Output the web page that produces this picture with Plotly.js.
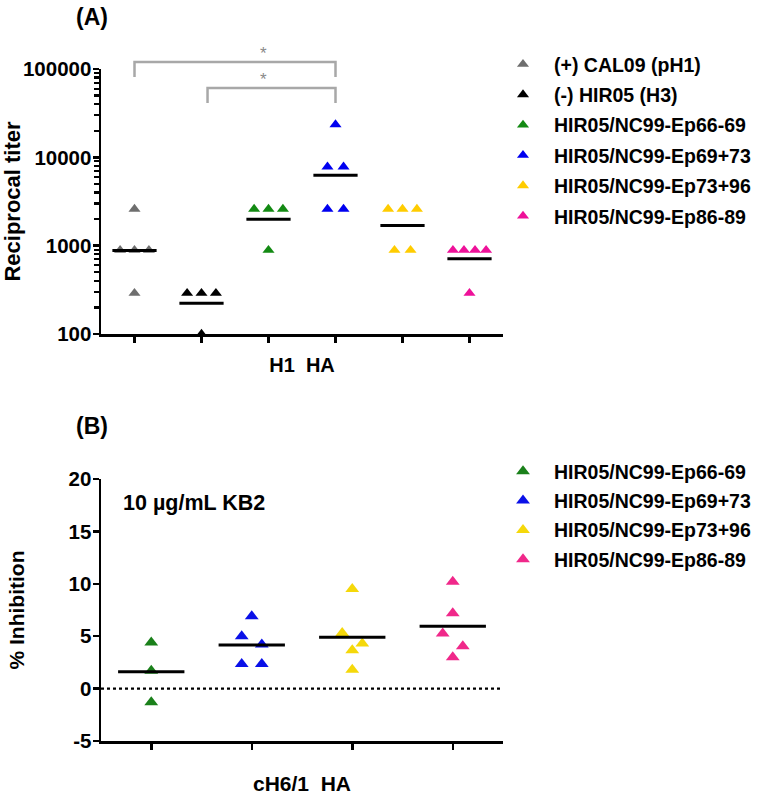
<!DOCTYPE html>
<html><head><meta charset="utf-8">
<script src="https://cdn.plot.ly/plotly-3.0.1.min.js"></script>
<style>html,body{margin:0;padding:0;background:#fff}#chart{width:758px;height:796px}</style>
</head><body><div id="chart"></div>
<script>
// ---------- Panel A data (reciprocal titer, H1 HA) ----------
const groupsA = ['(+) CAL09 (pH1)', '(-) HIR05 (H3)', 'HIR05/NC99-Ep66-69', 'HIR05/NC99-Ep69+73', 'HIR05/NC99-Ep73+96', 'HIR05/NC99-Ep86-89'];
const titerCAL09  = [2600, 890, 890, 890, 290];
const titerHIR05  = [290, 290, 290, 100];
const titerEp66_69 = [2600, 2600, 2600, 890];
const titerEp69_73 = [23500, 7800, 7800, 2600, 2600];
const titerEp73_96 = [2600, 2600, 2600, 890, 890];
const titerEp86_89 = [890, 890, 890, 890, 290];
const yTickValsA = [100, 1000, 10000, 100000];
const yTickTextA = ['100', '1000', '10000', '100000'];
const xTitleA = 'H1\u00a0\u00a0HA';
const yTitleA = 'Reciprocal titer';
const sigPairs = [[0, 3], [1.09, 3]];
const sigLabels = ['*', '*'];

// ---------- Panel B data (% inhibition, cH6/1 HA) ----------
const groupsB = ['HIR05/NC99-Ep66-69', 'HIR05/NC99-Ep69+73', 'HIR05/NC99-Ep73+96', 'HIR05/NC99-Ep86-89'];
const inhibEp66_69 = [4.4, 1.7, -1.3];
const inhibEp69_73 = [6.9, 5.0, 4.2, 2.35, 2.35];
const inhibEp73_96 = [9.5, 5.3, 4.3, 3.65, 1.8];
const inhibEp86_89 = [10.2, 7.2, 5.25, 4.05, 3.0];
const yTickValsB = [-5, 0, 5, 10, 15, 20];
const yTickTextB = ['-5', '0', '5', '10', '15', '20'];
const xTitleB = 'cH6/1\u00a0\u00a0HA';
const yTitleB = '% Inhibition';
const noteB = '10 µg/mL KB2';

// ---------- styles ----------
const colorsA = ['#6e6e6e', '#000000', '#138a13', '#0000f0', '#ffcc00', '#ee1199'];
const colorsB = ['#1a801a', '#0a10e8', '#f5d80a', '#f0288a'];
const W = 758, H = 796;
const px = x => x / W, py = y => 1 - y / H;
const FONT = 'Arial, "Liberation Sans", Helvetica, sans-serif';

// symmetric spreading of points that fall in the same bin
function spread(vals, keyFn, spacingByN) {
  const bins = {};
  vals.forEach((v, i) => { const k = keyFn(v); (bins[k] = bins[k] || []).push(i); });
  const off = new Array(vals.length).fill(0);
  Object.values(bins).forEach(idx => {
    const n = idx.length, s = spacingByN[n] || spacingByN.max;
    idx.forEach((i, k) => { off[i] = (k - (n - 1) / 2) * s; });
  });
  return off;
}
const geomean = a => Math.pow(10, a.reduce((s, v) => s + Math.log10(v), 0) / a.length);
const mean = a => a.reduce((s, v) => s + v, 0) / a.length;

const traces = [];
const seriesA = [titerCAL09, titerHIR05, titerEp66_69, titerEp69_73, titerEp73_96, titerEp86_89];
const lineAx = [], lineAy = [];
seriesA.forEach((vals, g) => {
  const off = spread(vals, v => Math.round(Math.log10(v) * 10), {1: 0, 2: 0.24, 3: 0.215, 4: 0.165, max: 0.165});
  traces.push({
    type: 'scatter', mode: 'markers', xaxis: 'x', yaxis: 'y',
    x: vals.map((v, i) => g + off[i]), y: vals,
    name: groupsA[g], legend: 'legend', legendgroup: 'a' + g,
    marker: {symbol: 'triangle-up', size: 10.5, color: colorsA[g], line: {width: 0}},
    cliponaxis: false, hoverinfo: 'x+y'
  });
  const m = geomean(vals);
  lineAx.push(g - 0.33, g + 0.33, null); lineAy.push(m, m, null);
});
traces.push({type: 'scatter', mode: 'lines', xaxis: 'x', yaxis: 'y', x: lineAx, y: lineAy,
  line: {color: '#000', width: 3}, showlegend: false, hoverinfo: 'skip'});

const seriesB = [inhibEp66_69, inhibEp69_73, inhibEp73_96, inhibEp86_89];
const lineBx = [], lineBy = [];
seriesB.forEach((vals, g) => {
  const off = spread(vals, v => Math.floor(v / 2), {1: 0, 2: 0.2, 3: 0.2, max: 0.15});
  traces.push({
    type: 'scatter', mode: 'markers', xaxis: 'x2', yaxis: 'y2',
    x: vals.map((v, i) => g + off[i]), y: vals,
    name: groupsB[g], legend: 'legend2', legendgroup: 'b' + g,
    marker: {symbol: 'triangle-up', size: 12, color: colorsB[g], line: {width: 0}},
    cliponaxis: false, hoverinfo: 'x+y'
  });
  const m = mean(vals);
  lineBx.push(g - 0.33, g + 0.33, null); lineBy.push(m, m, null);
});
traces.push({type: 'scatter', mode: 'lines', xaxis: 'x2', yaxis: 'y2', x: lineBx, y: lineBy,
  line: {color: '#000', width: 3}, showlegend: false, hoverinfo: 'skip'});

const axisCommon = {
  showline: true, linecolor: '#000', linewidth: 2.5, ticks: 'outside', ticklen: 6, tickwidth: 2.5,
  tickcolor: '#000', showgrid: false, zeroline: false, ticklabelstandoff: -3,
  tickfont: {family: FONT, size: 20.5, color: '#000', weight: 'bold'}
};

const shapes = [];
const annotations = [];
const bracketTop = [62, 88], bracketDrop = 15;
sigPairs.forEach((p, i) => {
  const yt = py(bracketTop[i]), yb = py(bracketTop[i] + bracketDrop);
  shapes.push({type: 'path', xref: 'x', yref: 'paper',
    path: `M${p[0]},${yb} L${p[0]},${yt} L${p[1]},${yt} L${p[1]},${yb}`,
    line: {color: '#a8a8a8', width: 2.5}});
  annotations.push({xref: 'x', yref: 'paper', x: 1.93, y: py(bracketTop[i] - 9), text: sigLabels[i],
    showarrow: false, font: {family: FONT, size: 17, color: '#8a8a8a'}, xanchor: 'center', yanchor: 'middle'});
});
shapes.push({type: 'line', xref: 'x2', yref: 'y2', x0: -0.5, x1: 3.5, y0: 0, y1: 0,
  line: {color: '#000', width: 2.2, dash: 'dot'}});

annotations.push({xref: 'paper', yref: 'paper', x: px(92), y: py(17), xanchor: 'center', yanchor: 'middle',
  text: '(A)', showarrow: false, font: {family: FONT, size: 23, color: '#000', weight: 'bold'}});
annotations.push({xref: 'paper', yref: 'paper', x: px(92), y: py(426), xanchor: 'center', yanchor: 'middle',
  text: '(B)', showarrow: false, font: {family: FONT, size: 23, color: '#000', weight: 'bold'}});
annotations.push({xref: 'paper', yref: 'paper', x: px(121), y: py(503), xanchor: 'left', yanchor: 'middle',
  text: noteB, showarrow: false, font: {family: FONT, size: 21.5, color: '#000', weight: 'bold'}});

const legendCommon = {
  xanchor: 'left', yanchor: 'top', bgcolor: 'rgba(0,0,0,0)', borderwidth: 0,
  font: {family: FONT, size: 19.5, color: '#000', weight: 'bold'},
  itemwidth: 52, itemclick: false, itemdoubleclick: false
};

const layout = {
  width: W, height: H, paper_bgcolor: '#fff', plot_bgcolor: '#fff',
  margin: {l: 0, r: 0, t: 0, b: 0}, showlegend: true,
  xaxis: Object.assign({}, axisCommon, {domain: [px(101), px(503)], range: [-0.5, 5.5],
    tickvals: [0, 1, 2, 3, 4, 5], showticklabels: false,
    title: {text: xTitleA, standoff: 17, font: {family: FONT, size: 20, color: '#000', weight: 'bold'}}}),
  yaxis: Object.assign({}, axisCommon, {domain: [py(334), py(69)], type: 'log', range: [2, 5],
    tickmode: 'array', tickvals: yTickValsA, ticktext: yTickTextA, ticklen: 6,
    minor: {ticks: 'outside', dtick: 'D1', ticklen: 5, tickwidth: 2.2, tickcolor: '#000', showgrid: false},
    title: {text: yTitleA, standoff: 2, font: {family: FONT, size: 22, color: '#000', weight: 'bold'}}}),
  xaxis2: Object.assign({}, axisCommon, {domain: [px(101), px(503)], range: [-0.5, 3.5], anchor: 'y2',
    tickvals: [0, 1, 2, 3], showticklabels: false,
    title: {text: xTitleB, standoff: 28, font: {family: FONT, size: 21, color: '#000', weight: 'bold'}}}),
  yaxis2: Object.assign({}, axisCommon, {domain: [py(741), py(479)], range: [-5, 20], anchor: 'x2',
    tickvals: yTickValsB, ticktext: yTickTextB,
    title: {text: yTitleB, standoff: 38, font: {family: FONT, size: 21, color: '#000', weight: 'bold'}}}),
  legend: Object.assign({}, legendCommon, {x: px(492), y: py(45), tracegroupgap: 2}),
  legend2: Object.assign({}, legendCommon, {x: px(492), y: py(452), tracegroupgap: 1}),
  shapes: shapes, annotations: annotations
};

Plotly.newPlot('chart', traces, layout, {staticPlot: true, displayModeBar: false});
</script>
</body></html>
